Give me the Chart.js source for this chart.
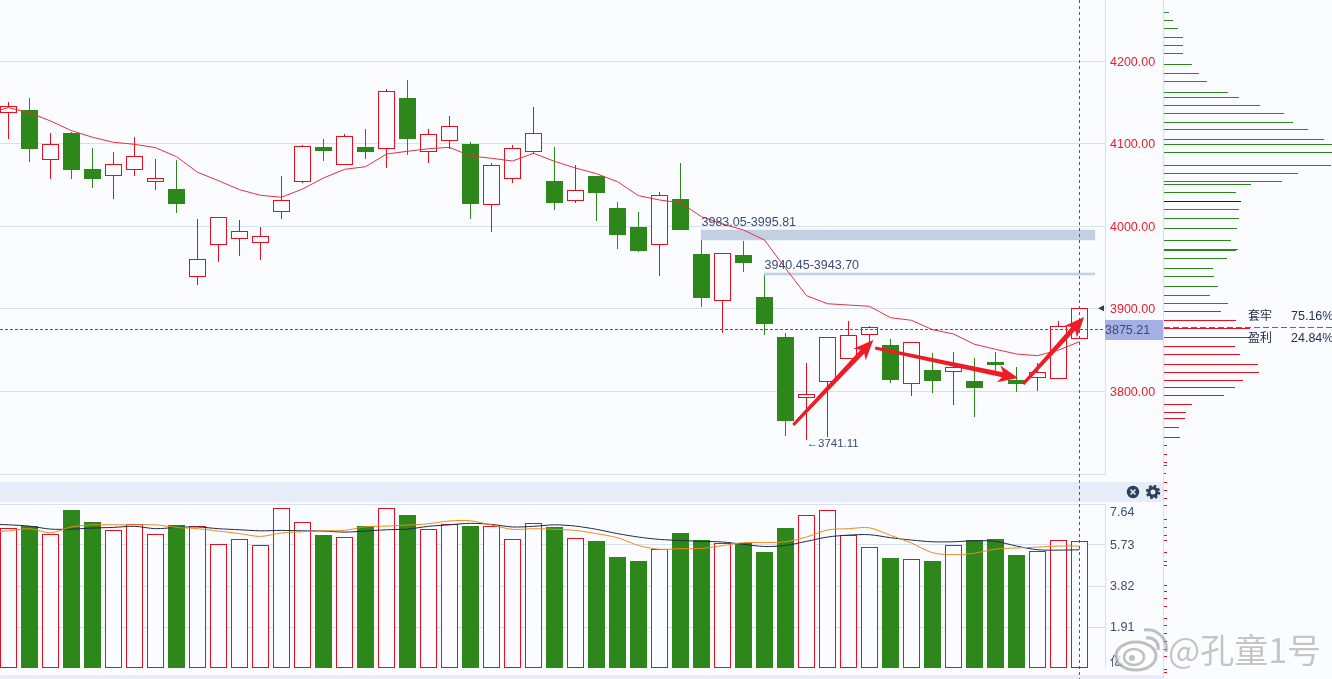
<!DOCTYPE html>
<html>
<head>
<meta charset="utf-8">
<script src="https://cdn.jsdelivr.net/npm/chart.js@4/dist/chart.umd.js"></script>
<style>
html, body { margin: 0; padding: 0; background: #fbfcff; overflow: hidden; }
#page { position: relative; width: 1332px; height: 679px; font-family: "Liberation Sans", sans-serif; overflow: hidden; }
canvas { position: absolute; display: block; }
#mainChart { left: 0; top: 0; }
#volChart { left: 0; top: 504px; }
#profileChart { left: 1164px; top: 0; }
.band { position: absolute; left: 0; width: 1163px; background: #e6edf8; }
#divider { position: absolute; left: 1163px; top: 0; width: 1px; height: 679px; background: #d5e1f0; }
#crossV { position: absolute; top: 0; width: 1px; height: 679px; z-index: 5;
  background: repeating-linear-gradient(to bottom, #4a5a78 0 3px, transparent 3px 6px); }
#icons { position: absolute; left: 1126px; top: 485px; z-index: 4; }
.cost { position: absolute; left: 1248px; font-size: 12.5px; color: #26314d; white-space: pre; z-index: 4; }
.cost span { position: absolute; left: 43px; top: 3px; }
.cost b { font: 12px "Noto Sans CJK SC"; }
#mark { position: absolute; left: 1168px; top: 624px; font: 34px "Noto Sans CJK SC"; color: rgba(150,150,150,.55);
  text-shadow: 0 0 2px #fff, 1px 1px 1px #fff, -1px -1px 1px #fff; white-space: nowrap; z-index: 6; }
#logo { position: absolute; left: 1114px; top: 628px; z-index: 6; }
</style>
</head>
<body>
<div id="page">
  <div class="band" style="top:482px;height:20px"></div>
  <div class="band" style="top:675px;height:4px"></div>
  <canvas id="mainChart" width="1163" height="475"></canvas>
  <canvas id="volChart" width="1163" height="164"></canvas>
  <canvas id="profileChart" width="168" height="679"></canvas>
  <div id="divider"></div>
  <div id="crossV"></div>
  <svg id="icons" width="36" height="14" viewBox="0 0 36 14">
    <circle cx="7" cy="7" r="6.2" fill="#2c3e5c"/>
    <path d="M4.5 4.5 L9.5 9.5 M9.5 4.5 L4.5 9.5" stroke="#e6edf8" stroke-width="1.6"/>
    <circle cx="27" cy="7" r="4" fill="none" stroke="#2c3e5c" stroke-width="3"/>
    <circle cx="27" cy="7" r="6" fill="none" stroke="#2c3e5c" stroke-width="2.4" stroke-dasharray="2.6 2.1"/>
  </svg>
  <div class="cost" style="top:306px"><b>套牢</b><span>75.16%</span></div>
  <div class="cost" style="top:328px"><b>盈利</b><span>24.84%</span></div>
  <svg id="logo" width="54" height="44" viewBox="0 0 54 44">
    <ellipse cx="22" cy="28" rx="20" ry="14" fill="rgba(255,255,255,.75)" stroke="rgba(150,150,150,.6)" stroke-width="3"/>
    <ellipse cx="20" cy="29" rx="10" ry="8" fill="none" stroke="rgba(150,150,150,.6)" stroke-width="2.5"/>
    <circle cx="18" cy="30" r="3" fill="rgba(150,150,150,.6)"/>
    <path d="M32 10 A10 10 0 0 1 44 22 M30 2 A19 19 0 0 1 52 24" fill="none" stroke="rgba(150,150,150,.6)" stroke-width="3"/>
  </svg>
  <div id="mark">@孔童1号</div>
</div>
<script>
// K线
var opens = [4138.3,4139.9,4081.3,4112.0,4068.3,4061.4,4069.1,4054.6,4045.2,3939.3,3978.1,3985.4,3980.5,4018.2,4054.1,4095.0,4075.2,4095.0,4094.6,4154.5,4091.0,4104.3,4099.8,4026.7,4058.2,4090.5,4054.9,4031.5,4059.8,4021.0,3997.9,3978.1,4031.9,3966.3,3910.2,3965.1,3913.0,3865.6,3792.4,3811.9,3839.8,3868.9,3854.7,3809.4,3824.4,3824.0,3812.2,3834.1,3813.4,3816.7,3815.5,3864.0];
var closes = [4145.1,4094.1,4099.0,4068.7,4057.7,4075.2,4084.9,4058.2,4027.4,3959.9,4010.9,3993.9,3987.8,4031.5,4097.1,4091.7,4109.2,4090.5,4163.8,4106.3,4111.6,4121.3,4027.4,4074.0,4094.6,4112.8,4028.6,4043.6,4040.7,3989.8,3970.4,4037.6,3995.8,3913.3,3967.2,3955.8,3881.8,3764.0,3796.1,3865.3,3867.7,3877.4,3813.8,3859.2,3812.6,3828.9,3804.1,3832.0,3808.9,3822.8,3878.6,3900.5];
var highs = [4150.8,4154.5,4112.0,4114.4,4093.8,4090.1,4108.3,4081.6,4080.4,4008.8,4010.9,4007.6,3997.9,4061.0,4098.6,4104.7,4110.8,4118.0,4165.4,4176.3,4118.0,4133.8,4101.4,4076.4,4098.3,4144.7,4095.0,4074.0,4061.0,4029.4,4017.3,4041.2,4075.6,3985.0,3967.2,3982.1,3940.9,3870.1,3832.9,3865.3,3885.0,3878.6,3862.0,3859.2,3845.0,3846.2,3840.1,3847.4,3828.0,3832.9,3885.0,3900.5];
var lows = [4106.3,4078.4,4057.7,4057.7,4046.8,4033.5,4061.4,4044.4,4016.5,3929.1,3957.0,3964.3,3959.4,4009.2,4052.9,4079.6,4075.2,4082.0,4071.1,4086.9,4077.2,4094.1,4009.2,3993.4,4052.9,4088.6,4020.1,4028.6,4006.8,3972.8,3969.1,3940.0,3995.8,3902.4,3870.8,3944.9,3868.4,3745.8,3741.11,3744.6,3839.8,3858.3,3810.2,3794.4,3798.0,3783.5,3768.9,3823.1,3799.2,3800.5,3815.5,3864.0];
var maLine = [4144,4137.8,4127.8,4116,4108,4101.9,4099.5,4095.4,4084.5,4065.5,4055.3,4044.4,4037.6,4035.2,4045.2,4058.6,4069.1,4072.3,4087.7,4091,4094.1,4095.8,4085.3,4082.5,4079.2,4088.6,4078.8,4070.7,4063.8,4054.1,4037.1,4031.9,4028.6,4011.6,4002.8,3995.5,3983.3,3949,3915.8,3906,3904.4,3902.9,3889,3885.9,3874.5,3869.3,3856.8,3850.7,3845,3842.9,3849.8,3859.9];
var maBefore = 4137; // 左边界外的前一根
var priceTicks = [3800,3900,4000,4100,4200];
var lastPrice = 3875.21;
var lowLabel = '←3741.11';

// 成交量
var volumes = [6.52,6.60,6.21,7.34,6.78,6.40,6.68,6.21,6.64,6.58,5.74,5.98,5.70,7.42,6.77,6.18,6.07,6.60,7.42,7.11,6.44,6.68,6.60,6.58,5.98,6.72,6.55,6.02,5.90,5.15,4.97,5.51,6.27,5.93,5.79,5.79,5.39,6.50,7.10,7.33,6.15,5.60,5.11,5.05,4.97,5.70,5.93,5.99,5.25,5.42,5.93,5.88];
var volMaDark = [6.67,6.61,6.47,6.47,6.52,6.55,6.60,6.49,6.55,6.57,6.49,6.44,6.39,6.41,6.39,6.38,6.33,6.38,6.44,6.47,6.60,6.67,6.74,6.69,6.57,6.60,6.67,6.61,6.46,6.26,6.10,5.99,5.94,5.90,5.87,5.76,5.66,5.71,5.90,6.10,6.19,6.21,6.07,5.96,5.88,5.88,5.93,5.90,5.68,5.51,5.49,5.51];
var volMaOrange = [6.39,6.49,6.30,6.57,6.67,6.67,6.67,6.67,6.55,6.49,6.38,6.26,6.13,6.29,6.35,6.39,6.41,6.58,6.61,6.66,6.72,6.85,6.86,6.66,6.46,6.49,6.46,6.41,6.26,6.07,5.71,5.53,5.56,5.57,5.70,5.84,5.84,5.88,6.10,6.43,6.49,6.53,6.18,5.82,5.37,5.28,5.35,5.54,5.59,5.63,5.68,5.68];
var darkBefore = 6.70, orangeBefore = 6.33;
var volTicks = [0,1.91,3.82,5.73,7.64];

// 筹码分布
var levelPrices = [4259.43,4249.72,4240.01,4229.09,4219.38,4209.67,4196.32,4185.4,4175.69,4162.34,4156.27,4146.57,4136.86,4125.93,4117.44,4105.3,4099.23,4089.53,4073.75,4064.04,4054.33,4050.69,4040.98,4030.06,4020.35,4009.43,3997.29,3982.73,3971.81,3970.59,3960.88,3948.75,3939.04,3926.9,3915.98,3906.27,3896.56,3885.64,3875.93,3865.01,3854.09,3844.38,3832.24,3822.53,3812.83,3804.33,3794.62,3783.7,3773.99,3766.71,3755.79,3743.65,3733.94,3723.02,3713.31,3709.67,3699.96,3689.04,3679.33,3669.62,3661.13,3644.13,3634.43,3624.72,3618.65,3604.09,3593.16,3588.31,3564.04,3556.76,3548.26,3538.55,3523.99,3515.49,3505.78,3496.08,3486.37,3477.87,3462.1,3458.45];
var levelSizes = [5,9,14,19,19,19,28,35,43,64,75,96,120,129,144,160,168,170,167,134,118,87,72,77,75,75,73,67,74,72,63,49,50,54,46,64,57,72,86,87,71,76,94,95,79,71,60,28,22,21,15,16,3,3,3,3,2,3,3,3,3,3,3,3,3,3,3,3,3,3,3,3,3,3,3,3,3,3,3,3];
var darkLevel = 4030.06;
var costLevel = 3877.2;

// 压力区间 [起始K线, 下沿, 上沿, 结束位置]
var zoneStart = [33, 36];
var zoneLow = [3983.05, 3940.45];
var zoneHigh = [3995.81, 3943.70];
var zoneEnd = 51.74;

// 手绘箭头
var arrowFromX = [37.37, 41.27, 48.32];
var arrowFromY = [3758.8, 3852.3, 3808.6];
var arrowToX = [41.18, 48.08, 51.22];
var arrowToY = [3862, 3815.9, 3889.9];

var RED = '#e60f1e', GREEN = '#2e871b', BG = '#fbfcff', GRID = '#d5e1f0', TEXT = '#3c4d6e';
var FONT = '12.5px "Liberation Sans"';
var idx = opens.map(function (v, i) { return i; });
var isUp = opens.map(function (o, i) { return closes[i] >= o; });
var xMin = -8.5 / 21, xMax = (1105 - 8.5) / 21;
var upColors = isUp.map(function (up) { return up ? BG : GREEN; });
var lineColors = isUp.map(function (up) { return up ? RED : GREEN; });

Chart.defaults.font.family = '"Liberation Sans"';
Chart.defaults.font.size = 12.5;

function xScale() {
    return { type: 'linear', display: false, min: xMin, max: xMax, offset: false, grid: { display: false } };
}

// 坐标轴固定58宽，上下不留标签边距
function fixWidth(axis) {
    axis.width = 58;
    axis.paddingTop = 0;
    axis.paddingBottom = 0;
}

// 线加上左边界外的一个点，这样能从画布边上开始
function linePoints(before, values) {
    return [{ x: -1, y: before }].concat(values.map(function (v, i) { return { x: i, y: v }; }));
}

function drawArrow(ctx, x0, y0, x1, y1) {
    var a = Math.atan2(y1 - y0, x1 - x0), len = Math.hypot(x1 - x0, y1 - y0);
    ctx.save();
    ctx.translate(x0, y0);
    ctx.rotate(a);
    ctx.fillStyle = '#ee1c25';
    ctx.beginPath();
    ctx.moveTo(0, -1.6);
    ctx.lineTo(len - 16, -2.6);
    ctx.lineTo(len - 20, -8.5);
    ctx.lineTo(len, 0);
    ctx.lineTo(len - 20, 8.5);
    ctx.lineTo(len - 16, 2.6);
    ctx.lineTo(0, 1.6);
    ctx.closePath();
    ctx.fill();
    ctx.restore();
}

// 柱子上下边对齐到整像素
var crispPlugin = {
    id: 'crisp',
    afterDatasetsUpdate: function (chart) {
        chart.data.datasets.forEach(function (ds, i) {
            var meta = chart.getDatasetMeta(i);
            if (meta.type !== 'bar') return;
            meta.data.forEach(function (el) {
                var top = Math.floor(Math.min(el.y, el.base));
                var bottom = Math.ceil(Math.max(el.y, el.base));
                el.y = top;
                el.base = bottom;
                el.height = bottom - top;
            });
        });
    }
};

// 区间要压在K线上面、均线下面
var zonePlugin = {
    id: 'zones',
    beforeDatasetDraw: function (chart, args) {
        if (args.index !== 0) return;
        var ctx = chart.ctx, x = chart.scales.x, y = chart.scales.y;
        ctx.save();
        ctx.fillStyle = '#c3d0e4';
        zoneStart.forEach(function (s, i) {
            var left = x.getPixelForValue(s) - 0.5;
            var top = y.getPixelForValue(zoneHigh[i]);
            ctx.fillRect(left, top, x.getPixelForValue(zoneEnd) - left, y.getPixelForValue(zoneLow[i]) - top);
        });
        ctx.restore();
    }
};

var overlayPlugin = {
    id: 'overlay',
    afterDatasetsDraw: function (chart) {
        var ctx = chart.ctx, x = chart.scales.x, y = chart.scales.y, area = chart.chartArea;
        ctx.save();
        // 下边框
        ctx.strokeStyle = GRID;
        ctx.beginPath();
        ctx.moveTo(0, area.bottom - 0.5);
        ctx.lineTo(area.right, area.bottom - 0.5);
        ctx.stroke();
        // 现价虚线
        var py = Math.floor(y.getPixelForValue(lastPrice)) + 0.5;
        ctx.strokeStyle = '#4a5a78';
        ctx.setLineDash([3, 2]);
        ctx.beginPath();
        ctx.moveTo(0, py);
        ctx.lineTo(area.right, py);
        ctx.stroke();
        ctx.setLineDash([]);
        // 区间文字
        ctx.font = FONT;
        ctx.fillStyle = TEXT;
        ctx.textBaseline = 'bottom';
        zoneStart.forEach(function (s, i) {
            ctx.fillText(zoneLow[i].toFixed(2) + '-' + zoneHigh[i].toFixed(2), x.getPixelForValue(s), y.getPixelForValue(zoneHigh[i]) - 1);
        });
        ctx.textBaseline = 'middle';
        ctx.font = '11.5px "Liberation Sans"';
        ctx.fillText(lowLabel, x.getPixelForValue(38), y.getPixelForValue(lows[38]) + 4);
        ctx.font = FONT;
        // 箭头
        arrowFromX.forEach(function (v, i) {
            drawArrow(ctx, x.getPixelForValue(v), y.getPixelForValue(arrowFromY[i]), x.getPixelForValue(arrowToX[i]), y.getPixelForValue(arrowToY[i]));
        });
        // 价格标签
        ctx.fillStyle = '#a4afe6';
        ctx.fillRect(area.right, py - 9.5, 58, 20);
        ctx.fillStyle = TEXT;
        ctx.fillText(lastPrice.toFixed(2), area.right, py + 1);
        // 最新价小三角
        var ty = y.getPixelForValue(closes[closes.length - 1]);
        ctx.fillStyle = '#2c3e5c';
        ctx.beginPath();
        ctx.moveTo(area.right - 7, ty);
        ctx.lineTo(area.right - 1, ty - 3);
        ctx.lineTo(area.right - 1, ty + 3);
        ctx.closePath();
        ctx.fill();
        ctx.restore();
    }
};

var mainChart = new Chart(document.getElementById('mainChart'), {
    type: 'bar',
    plugins: [crispPlugin, zonePlugin, overlayPlugin],
    data: {
        datasets: [
            {
                type: 'line',
                data: linePoints(maBefore, maLine),
                borderColor: '#e6303f',
                borderWidth: 1,
                pointRadius: 0,
                tension: 0,
                order: 1
            },
            {
                data: idx.map(function (i) { return { x: i, y: [opens[i], closes[i]] }; }),
                backgroundColor: upColors,
                borderColor: lineColors,
                borderWidth: 1,
                borderSkipped: false,
                inflateAmount: 0,
                barThickness: 17,
                grouped: false,
                order: 2
            },
            {
                data: idx.map(function (i) { return { x: i, y: [lows[i], highs[i]] }; }),
                backgroundColor: lineColors,
                inflateAmount: 0,
                barThickness: 1,
                grouped: false,
                order: 3
            }
        ]
    },
    options: {
        responsive: false,
        animation: false,
        events: [],
        layout: { padding: 0 },
        plugins: { legend: { display: false }, tooltip: { enabled: false } },
        scales: {
            x: xScale(),
            y: {
                position: 'right',
                min: 3698.14,
                max: 4274.6,
                afterFit: fixWidth,
                afterBuildTicks: function (axis) { axis.ticks = priceTicks.map(function (v) { return { value: v }; }); },
                grid: { color: GRID, drawTicks: false },
                border: { display: true, color: GRID },
                ticks: {
                    color: '#e8202a',
                    padding: 5,
                    labelOffset: 1,
                    autoSkip: false,
                    font: { size: 12.5 },
                    callback: function (v) { return Number(v).toFixed(2); }
                }
            }
        }
    }
});

var volChart = new Chart(document.getElementById('volChart'), {
    type: 'bar',
    plugins: [crispPlugin],
    data: {
        datasets: [
            {
                type: 'line',
                data: linePoints(orangeBefore, volMaOrange),
                borderColor: '#ee8a1d',
                borderWidth: 1,
                pointRadius: 0,
                tension: 0.3,
                order: 1
            },
            {
                type: 'line',
                data: linePoints(darkBefore, volMaDark),
                borderColor: '#1c2a4a',
                borderWidth: 1,
                pointRadius: 0,
                tension: 0.3,
                order: 2
            },
            {
                data: idx.map(function (i) { return { x: i, y: volumes[i] }; }),
                backgroundColor: upColors,
                borderColor: lineColors,
                borderWidth: 1,
                borderSkipped: false,
                inflateAmount: 0,
                barThickness: 17,
                grouped: false,
                order: 3
            }
        ]
    },
    options: {
        responsive: false,
        animation: false,
        events: [],
        layout: { padding: 0 },
        plugins: { legend: { display: false }, tooltip: { enabled: false } },
        scales: {
            x: xScale(),
            y: {
                position: 'right',
                min: 0,
                max: 7.64,
                afterFit: fixWidth,
                afterBuildTicks: function (axis) { axis.ticks = volTicks.map(function (v) { return { value: v }; }); },
                grid: { color: GRID, drawTicks: false },
                border: { display: true, color: GRID },
                ticks: {
                    color: TEXT,
                    padding: 5,
                    labelOffset: 1,
                    autoSkip: false,
                    font: { size: 12.5 },
                    // 上下两个标签往里收一点
                    callback: function (v) {
                        if (v === 0) return ['亿', ''];
                        if (v === 7.64) return ['', '7.64'];
                        return Number(v).toFixed(2);
                    }
                }
            }
        }
    }
});

var costLinePlugin = {
    id: 'costLine',
    afterDatasetsDraw: function (chart) {
        var ctx = chart.ctx, py = Math.floor(chart.scales.y.getPixelForValue(costLevel)) + 0.5;
        ctx.save();
        ctx.strokeStyle = '#5a6a85';
        ctx.setLineDash([6, 3]);
        ctx.beginPath();
        ctx.moveTo(0, py);
        ctx.lineTo(chart.width, py);
        ctx.stroke();
        ctx.restore();
    }
};

var profileChart = new Chart(document.getElementById('profileChart'), {
    type: 'bar',
    plugins: [costLinePlugin],
    data: {
        datasets: [{
            data: levelPrices.map(function (p, i) { return { x: levelSizes[i], y: p }; }),
            backgroundColor: levelPrices.map(function (p) {
                if (p === darkLevel) return '#141c33';
                return p >= 3900 ? GREEN : RED;
            }),
            inflateAmount: 0,
            barThickness: 1
        }]
    },
    options: {
        indexAxis: 'y',
        responsive: false,
        animation: false,
        events: [],
        layout: { padding: 0 },
        plugins: { legend: { display: false }, tooltip: { enabled: false } },
        scales: {
            x: { type: 'linear', display: false, min: 0, max: 168 },
            y: { type: 'linear', display: false, min: 3450.57, max: 4274.6, offset: false }
        }
    }
});

document.getElementById('crossV').style.left = Math.floor(mainChart.scales.x.getPixelForValue(51)) + 'px';
</script>
</body>
</html>
